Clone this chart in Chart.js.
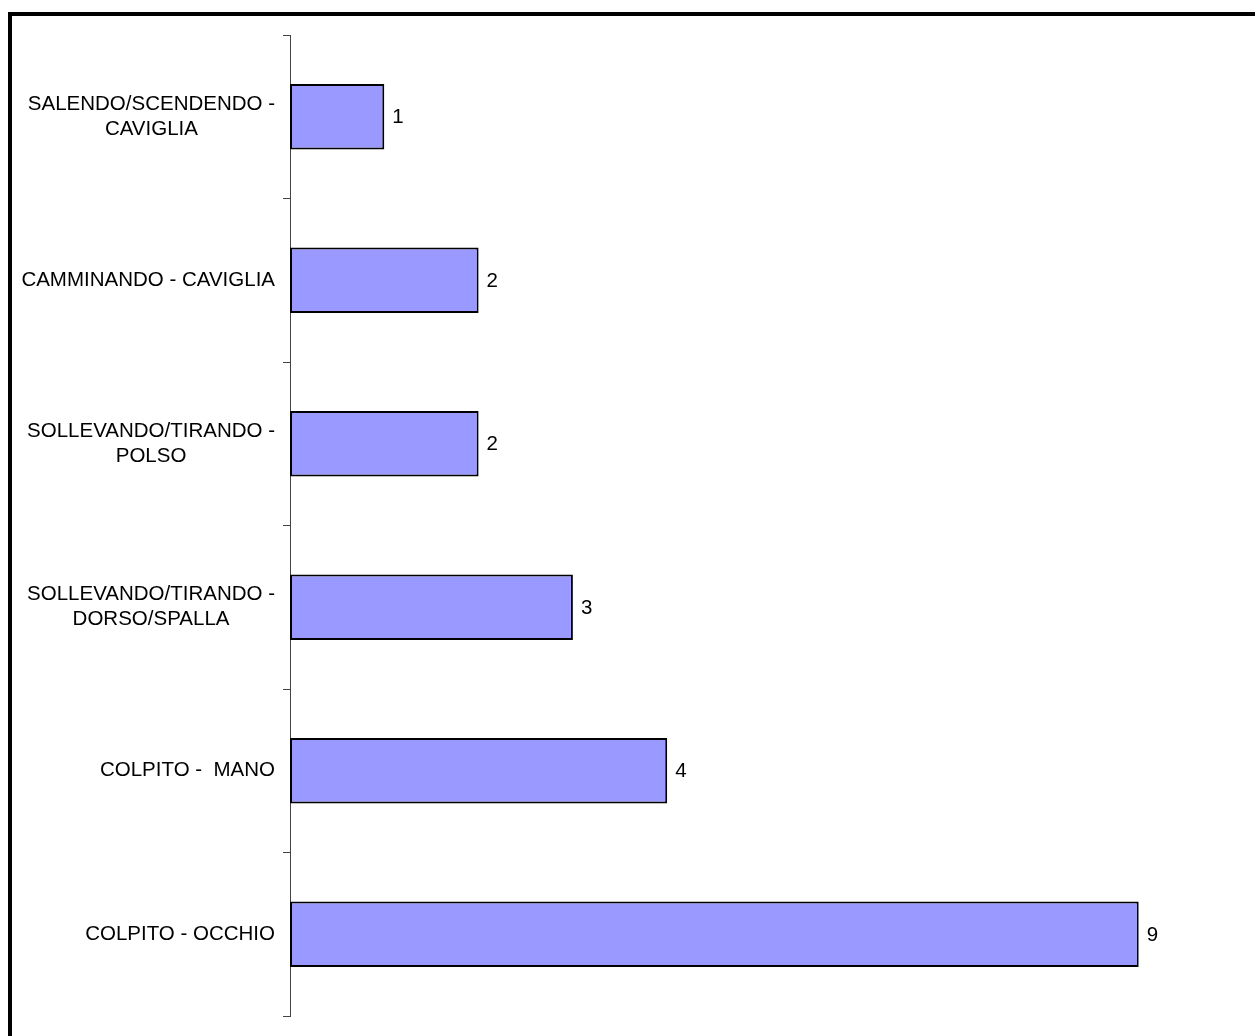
<!DOCTYPE html>
<html>
<head>
<meta charset="utf-8">
<script src="https://cdn.jsdelivr.net/npm/chart.js@4/dist/chart.umd.min.js"></script>
<style>
  html, body { margin: 0; padding: 0; background: #fff; overflow: hidden; }
  #wrap { position: absolute; left: 0; top: 0; width: 1255px; height: 1036px; }
  #frame { position: absolute; left: 8px; top: 12px; width: 2000px; height: 2000px;
           border: 4px solid #000; pointer-events: none; }
</style>
</head>
<body>
<div id="frame"></div>
<div id="wrap"><canvas id="barChart" width="1255" height="1036"></canvas></div>
<script>
// category labels (top to bottom), already split into lines
const categories = [
  ['SALENDO/SCENDENDO -', 'CAVIGLIA'],
  ['CAMMINANDO - CAVIGLIA'],
  ['SOLLEVANDO/TIRANDO -', 'POLSO'],
  ['SOLLEVANDO/TIRANDO -', 'DORSO/SPALLA'],
  ['COLPITO -  MANO'],
  ['COLPITO - OCCHIO']
];
const values = [1, 2, 2, 3, 4, 9];

const FONT = '20.5px "Liberation Sans", Arial, sans-serif';

// draws the centred multi-line category names and the value next to each bar
const textPlugin = {
  id: 'textPlugin',
  afterDatasetsDraw(chart) {
    const { ctx, scales: { y } } = chart;
    ctx.save();
    ctx.font = FONT;
    ctx.fillStyle = '#000';
    ctx.textBaseline = 'middle';
    ctx.textAlign = 'center';
    categories.forEach((lines, i) => {
      const cy = y.getPixelForValue(i);
      const w = Math.max(...lines.map(l => ctx.measureText(l).width));
      const cx = y.right - 15 - w / 2;
      lines.forEach((l, j) => ctx.fillText(l, cx, cy + (j - (lines.length - 1) / 2) * 25));
    });
    ctx.textAlign = 'left';
    chart.getDatasetMeta(0).data.forEach((bar, i) => {
      ctx.fillText(String(values[i]), bar.x + 8, bar.y + 1);
    });
    ctx.restore();
  }
};

const ctxBar = document.getElementById('barChart').getContext('2d');
new Chart(ctxBar, {
  type: 'bar',
  data: {
    labels: categories,
    datasets: [{
      data: values,
      backgroundColor: '#9999FF',
      borderColor: '#000',
      borderWidth: 2,
      borderSkipped: false,
      barPercentage: 0.4,
      categoryPercentage: 1
    }]
  },
  options: {
    indexAxis: 'y',
    responsive: false,
    animation: false,
    devicePixelRatio: 1,
    layout: { padding: { top: 35, bottom: 20, right: 22, left: 0 } },
    plugins: { legend: { display: false }, tooltip: { enabled: false } },
    scales: {
      x: { display: false, min: 0, max: 10 },
      y: {
        afterFit: s => { s.width = 290; },
        ticks: { display: false },
        grid: { offset: true, drawOnChartArea: false, drawTicks: true, tickLength: 7, color: '#444', lineWidth: 1 },
        border: { display: true, color: '#444', width: 1 }
      }
    }
  },
  plugins: [textPlugin]
});
</script>
</body>
</html>
